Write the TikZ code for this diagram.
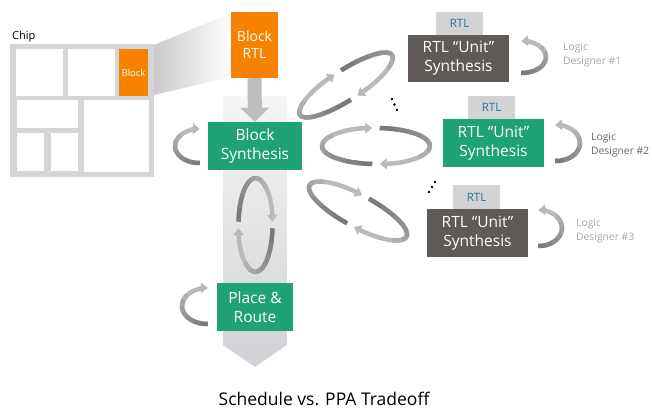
\documentclass[tikz,border=0pt]{standalone}
\usepackage{fontspec}
\setmainfont{Open Sans}
\usetikzlibrary{arrows.meta}
\definecolor{orng}{HTML}{F78200}
\definecolor{grn}{HTML}{1FA274}
\definecolor{unitgray}{HTML}{5F5A58}
\definecolor{tabgray}{HTML}{D1D3D4}
\definecolor{rtlblue}{HTML}{30719A}
\definecolor{chipgray}{HTML}{D5D5D5}
\definecolor{ribdark}{HTML}{7A7A7A}
\definecolor{riblight}{HTML}{B9B9B9}
\definecolor{barcol}{HTML}{BDBEC0}
\definecolor{lightlbl}{HTML}{A6A6A6}
\definecolor{darklbl}{HTML}{666666}
\definecolor{funnelgray}{HTML}{C9CACC}
\definecolor{bgtop}{HTML}{F6F6F7}
\definecolor{bgbot}{HTML}{D0D1D4}
\tikzset{
  ribtip/.style={-{Triangle[length=7pt,width=10.5pt]}},
  box/.style={inner sep=0pt, align=center, text=white, font=\fontsize{15.5}{19}\selectfont},
  tabbox/.style={inner sep=0pt, fill=tabgray, text=rtlblue, minimum width=47pt, minimum height=23.5pt, font=\fontsize{11.5}{13}\selectfont},
  unitbox/.style={box, minimum width=101pt, minimum height=47.5pt},
  lbl/.style={align=left, anchor=west, inner sep=0pt, font=\fontsize{10.3}{13.5}\selectfont},
  whitecell/.style={fill=white}
}
\newcommand\ribbon[8]{%
  \begin{scope}[shift={(#1pt,#2pt)},rotate=#3]
    \draw[line width=#8pt,riblight,ribtip] (#6:#4pt and #5pt) arc[start angle=#6,end angle=#7,x radius=#4pt,y radius=#5pt];
    \foreach \k in {0,...,6}{
      \pgfmathsetmacro\aa{#6+(#7-#6)*\k/10}
      \pgfmathsetmacro\bb{#6+(#7-#6)*(\k+1.15)/10}
      \pgfmathsetmacro\cc{100-\k*14}
      \draw[line width=#8pt,ribdark!\cc!riblight] (\aa:#4pt and #5pt) arc[start angle=\aa,end angle=\bb,x radius=#4pt,y radius=#5pt];
    }
  \end{scope}}
\begin{document}
\begin{tikzpicture}[x=1pt,y=1pt]
\useasboundingbox (0,0) rectangle (652,-409);
% funnel from chip block to Block RTL
\shade[left color=funnelgray, right color=white] (154,-45) -- (231,-13) -- (231,-77) -- (154,-95) -- cycle;
% chip
\node[anchor=base west, inner sep=0pt, font=\fontsize{11}{13}\selectfont] (chiplbl) at (12,-40) {Chip};
\fill[chipgray] (10,-44) rectangle (154,-177);
\fill[whitecell] (16,-49) rectangle (63,-96);
\fill[whitecell] (68,-49) rectangle (115,-96);
\fill[whitecell] (17,-100) rectangle (78,-128);
\fill[whitecell] (17,-133) rectangle (44,-171);
\fill[whitecell] (51,-133) rectangle (78,-171);
\fill[whitecell] (84,-100) rectangle (149,-172);
\node[fill=orng, minimum width=29pt, minimum height=47pt, inner sep=0pt, text=white, font=\fontsize{9.5}{11}\selectfont] (chipblock) at (133.5,-72.5) {Block};
% big background arrow
\shade[top color=bgtop, bottom color=bgbot] (223,-96) -- (287,-96) -- (287,-345) -- (255,-367) -- (223,-345) -- cycle;
% boxes
\node[box, fill=orng, minimum width=47pt, minimum height=66pt, font=\fontsize{14}{17}\selectfont] (brtl) at (254.5,-45) {Block\\RTL};
\node[box, fill=grn, minimum width=94pt, minimum height=48pt] (bs) at (255,-146) {Block\\Synthesis};
\node[box, fill=grn, minimum width=76pt, minimum height=48pt] (pr) at (255,-307) {Place \&\\Route};
\draw[barcol, line width=14pt, -{Triangle[length=14pt,width=28pt]}] (brtl.south) -- (bs.north);
% unit syntheses
\node[tabbox] (tab1) at (459.5,-23.5) {RTL};
\node[unitbox, fill=unitgray] (u1) at (458.5,-58.5) {RTL “Unit”\\Synthesis};
\node[tabbox] (tab2) at (491.5,-107.5) {RTL};
\node[unitbox, fill=grn] (u2) at (493.5,-143) {RTL “Unit”\\Synthesis};
\node[tabbox] (tab3) at (476.5,-197) {RTL};
\node[unitbox, fill=unitgray] (u3) at (477.5,-233) {RTL “Unit”\\Synthesis};
% designer labels
\node[lbl, text=lightlbl] (ld1) at (563,-55) {Logic\\Designer \#1};
\node[lbl, text=darklbl] (ld2) at (591,-145) {Logic\\Designer \#2};
\node[lbl, text=lightlbl] (ld3) at (576,-231) {Logic\\Designer \#3};
% ribbons (ellipses)
\ribbon{346}{-85}{33}{55}{15}{266}{94}{4.5}
\ribbon{346}{-85}{33}{55}{15}{86}{-86}{4.5}
\ribbon{376}{-146}{0}{54}{18}{266}{94}{4.5}
\ribbon{376}{-146}{0}{54}{18}{86}{-86}{4.5}
\ribbon{358}{-211}{-28}{55}{16}{266}{94}{4.5}
\ribbon{358}{-211}{-28}{55}{16}{86}{-86}{4.5}
\ribbon{255.5}{-225}{90}{47}{17}{266}{94}{4.5}
\ribbon{255.5}{-225}{90}{47}{17}{86}{-86}{4.5}
% half arcs
\ribbon{199}{-146}{0}{24}{17}{272}{88}{4.5}
\ribbon{207}{-306}{0}{25}{18}{272}{88}{4.5}
\ribbon{522}{-57}{0}{24}{16}{-92}{92}{4.5}
\ribbon{556}{-143}{0}{24}{18}{-92}{92}{4.5}
\ribbon{539}{-228}{0}{23}{18}{-92}{92}{4.5}
% dots
\fill (392,-99) circle (1.4);
\fill (394.5,-104.5) circle (1.4);
\fill (397,-110) circle (1.4);
\fill (435,-182) circle (1.4);
\fill (432,-187) circle (1.4);
\fill (429,-192) circle (1.4);
% caption
\node[anchor=base, inner sep=0pt, font=\fontsize{17.5}{20}\selectfont] (cap) at (324,-405) {Schedule vs. PPA Tradeoff};
\end{tikzpicture}
\end{document}
